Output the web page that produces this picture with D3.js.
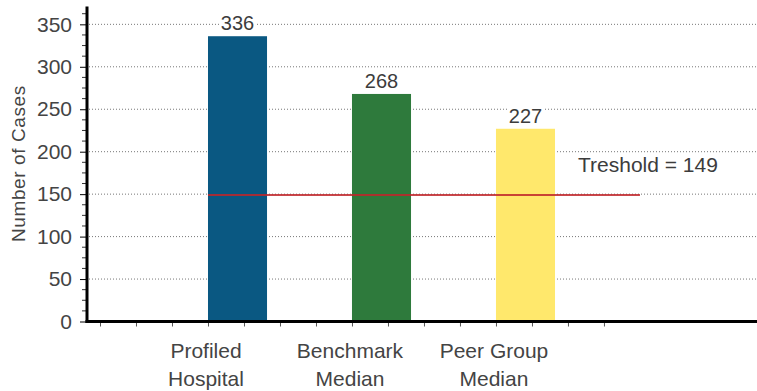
<!DOCTYPE html>
<html>
<head>
<meta charset="utf-8">
<script src="https://cdn.jsdelivr.net/npm/d3@7"></script>
<style>
  html, body { margin: 0; padding: 0; background: #fff; }
  svg { display: block; font-family: "Liberation Sans", Arial, sans-serif; }
</style>
</head>
<body>
<svg id="chart" width="757" height="391"></svg>
<script>
// Case counts per comparison group
const categories = ["Profiled Hospital", "Benchmark Median", "Peer Group Median"];
const categoryLines = [["Profiled", "Hospital"], ["Benchmark", "Median"], ["Peer Group", "Median"]];
const values = [336, 268, 227];
const barColors = ["#0a5882", "#2e7a3c", "#ffe86c"];
const threshold = 149;
const thresholdLabel = "Treshold = " + threshold;
const yTicks = [0, 50, 100, 150, 200, 250, 300, 350];
const yMinorTicks = d3.range(0, 371, 12.5);
const yTitle = "Number of Cases";

const W = 757, H = 391;
const svg = d3.select("#chart");

const y = d3.scaleLinear().domain([0, 371]).range([321.5, 6.5]);
const x = d3.scaleBand().domain(categories)
  .range([100, 663]).paddingInner(0.59).paddingOuter(0.75).align(0.5);
const step = x.step();
const axisX = 87;

// minor tick scale along the category axis (quarter-slot spacing)
const slot = d3.scaleLinear().domain([0, 1]).range([x.range()[0], x.range()[0] + step]);

// dotted horizontal grid
svg.append("g").selectAll("line")
  .data(yTicks.filter(d => d > 0))
  .join("line")
  .attr("x1", axisX + 2).attr("x2", W)
  .attr("y1", d => y(d)).attr("y2", d => y(d))
  .attr("stroke", "#777").attr("stroke-width", 1)
  .attr("stroke-dasharray", "1,2");

// bars
svg.append("g").selectAll("rect")
  .data(values)
  .join("rect")
  .attr("x", (d, i) => x(categories[i]))
  .attr("width", x.bandwidth())
  .attr("y", d => y(d))
  .attr("height", d => y(0) - y(d))
  .attr("fill", (d, i) => barColors[i]);

// threshold line
svg.append("line")
  .attr("x1", x(categories[0])).attr("x2", x(categories[0]) + 3 * step)
  .attr("y1", y(threshold)).attr("y2", y(threshold))
  .attr("stroke", "#c0262a").attr("stroke-width", 1.8).attr("stroke-opacity", 0.85);

svg.append("text")
  .attr("x", x(categories[2]) + x.bandwidth() + 23)
  .attr("y", y(threshold) - 23)
  .attr("font-size", 21).attr("fill", "#3c3c3c")
  .text(thresholdLabel);

// value labels with a white backing so the grid does not run through them
const valG = svg.append("g");
values.forEach((v, i) => {
  const t = valG.append("text")
    .attr("x", x(categories[i]) + x.bandwidth() / 2)
    .attr("y", y(v) - 6)
    .attr("text-anchor", "middle")
    .attr("font-size", 20).attr("fill", "#3c3c3c")
    .text(v);
  const b = t.node().getBBox();
  valG.insert("rect", () => t.node())
    .attr("x", b.x - 1).attr("y", b.y + 2)
    .attr("width", b.width + 2).attr("height", b.height - 4)
    .attr("fill", "#fff");
});

// y axis: labels + major ticks
const yAxis = svg.append("g")
  .attr("transform", `translate(${axisX - 1},0)`)
  .call(d3.axisLeft(y).tickValues(yTicks).tickSize(6).tickPadding(8).tickFormat(d3.format("d")));
yAxis.select(".domain").remove();
yAxis.selectAll(".tick line").attr("stroke", "#000");
yAxis.selectAll(".tick text")
  .attr("font-family", "Liberation Sans, Arial, sans-serif")
  .attr("font-size", 21).attr("fill", "#444");

// y axis minor ticks
svg.append("g").selectAll("line")
  .data(yMinorTicks.filter(d => !yTicks.includes(d)))
  .join("line")
  .attr("x1", axisX - 5).attr("x2", axisX)
  .attr("y1", d => y(d)).attr("y2", d => y(d))
  .attr("stroke", "#333").attr("stroke-width", 1);

// x axis minor ticks
const xAxis = svg.append("g")
  .attr("transform", `translate(0,${y(0)})`)
  .call(d3.axisBottom(slot).tickValues(d3.range(0, 3.51, 0.25)).tickSize(5).tickFormat(""));
xAxis.select(".domain").remove();
xAxis.selectAll(".tick line").attr("stroke", "#555");

// axis lines
svg.append("line")
  .attr("x1", axisX).attr("x2", axisX)
  .attr("y1", y.range()[1]).attr("y2", y(0) + 1.5)
  .attr("stroke", "#000").attr("stroke-width", 3);
svg.append("line")
  .attr("x1", axisX - 1.5).attr("x2", W)
  .attr("y1", y(0)).attr("y2", y(0))
  .attr("stroke", "#000").attr("stroke-width", 3);

// category labels (two lines each)
const catG = svg.append("g");
categoryLines.forEach((lines, i) => {
  lines.forEach((ln, j) => {
    catG.append("text")
      .attr("x", x(categories[i]) - 2)
      .attr("y", 358 + j * 28)
      .attr("text-anchor", "middle")
      .attr("font-size", 21).attr("fill", "#444")
      .text(ln);
  });
});

// y axis title
svg.append("text")
  .attr("transform", `translate(25,${y(186)}) rotate(-90)`)
  .attr("text-anchor", "middle")
  .attr("font-size", 19).attr("letter-spacing", 0.6).attr("fill", "#444")
  .text(yTitle);
</script>
</body>
</html>
